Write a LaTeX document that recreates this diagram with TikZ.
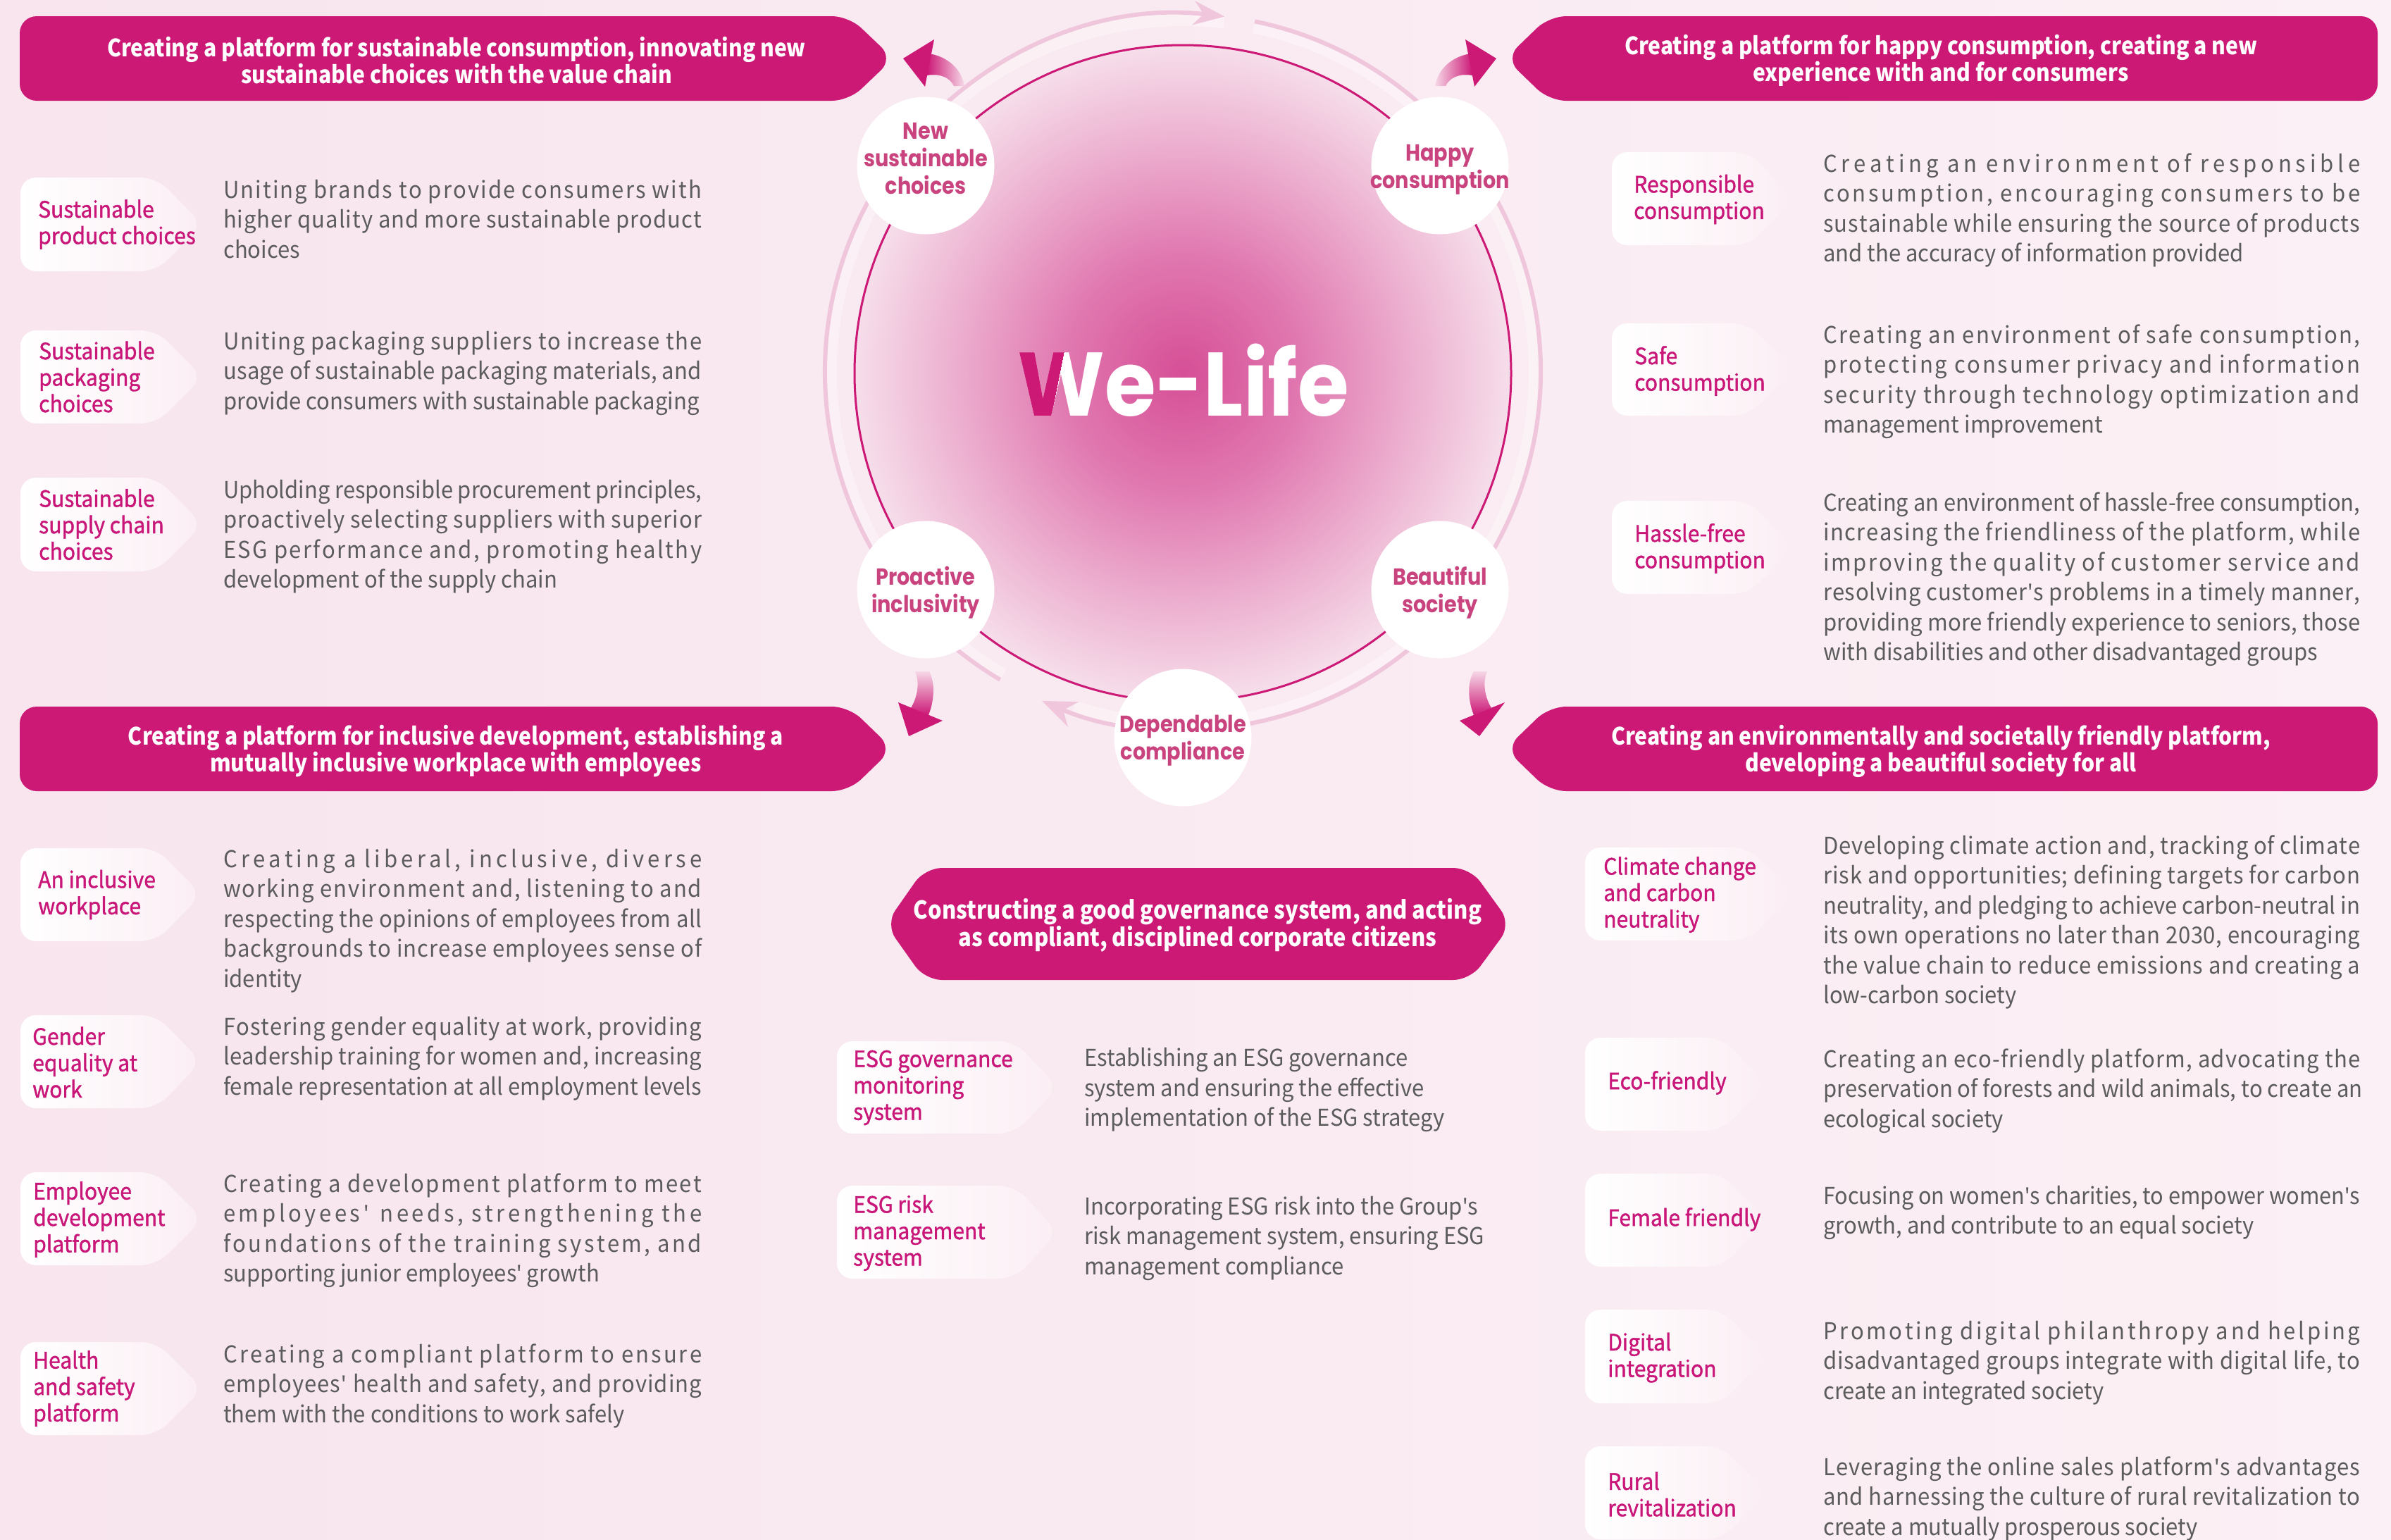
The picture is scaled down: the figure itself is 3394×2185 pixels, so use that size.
\documentclass[tikz,border=0pt]{standalone}
\usepackage{fontspec}
\usepackage{graphicx}
\usetikzlibrary{arrows.meta}
\setmainfont[FakeStretch=0.94]{Noto Sans CJK SC}
\newfontfamily\circfont[FakeStretch=0.87]{Poppins}
\newfontfamily\logofont[FakeStretch=0.92]{Poppins}
\newfontfamily\tagfont[FakeBold=1.2, FakeStretch=0.94]{Noto Sans CJK SC}
\newfontfamily\banfont[FakeStretch=0.885]{Noto Sans CJK SC}
\newfontfamily\aposfont{Noto Sans}
\newcommand\ap{{\aposfont'}}

\definecolor{mag}{RGB}{204,25,118}
\definecolor{tagtxt}{RGB}{201,22,121}
\definecolor{circtxt}{RGB}{201,68,126}
\definecolor{bodytxt}{RGB}{92,92,92}
\definecolor{bgL}{RGB}{248,229,238}
\definecolor{bgR}{RGB}{251,240,245}
\definecolor{ring}{RGB}{239,198,219}
\definecolor{pale}{RGB}{246,216,231}
\definecolor{tagR}{RGB}{251,238,244}

\pgfdeclareradialshading{core}{\pgfpoint{0bp}{0bp}}{%
  rgb(0bp)=(0.84,0.31,0.59);
  rgb(9bp)=(0.88,0.47,0.69);
  rgb(18bp)=(0.93,0.70,0.82);
  rgb(25bp)=(0.965,0.87,0.92);
  rgb(50bp)=(0.965,0.87,0.92)}

% letter-spaced line: equal stretchable gap between all characters
\ExplSyntaxOn
\seq_new:N \l__ws_words_seq
\bool_new:N \l__ws_first_bool
\bool_new:N \l__ws_firstc_bool
\cs_new_protected:Npn \ws_word:n #1
  {
    \bool_set_true:N \l__ws_firstc_bool
    \tl_map_inline:nn { #1 }
      {
        \bool_if:NF \l__ws_firstc_bool { \hskip 0pt plus 1fil \relax }
        \bool_set_false:N \l__ws_firstc_bool
        ##1
      }
  }
\cs_new_protected:Npn \spreadline #1
  {
    \seq_set_split:Nnn \l__ws_words_seq { ~ } { #1 }
    \bool_set_true:N \l__ws_first_bool
    \seq_map_inline:Nn \l__ws_words_seq
      {
        \bool_if:NF \l__ws_first_bool { \hskip \fontdimen2\font plus 1fil \relax }
        \bool_set_false:N \l__ws_first_bool
        \ws_word:n { ##1 }
      }
  }
\ExplSyntaxOff

% justified body line: letter-spaced, or squeezed if too long
\newsavebox\linebox
\newcommand\jl[1]{\sbox\linebox{#1}%
  \ifdim\wd\linebox>\linewidth
    \noindent\resizebox{\linewidth}{\height}{#1}%
  \else
    \noindent\makebox[\linewidth][s]{\spreadline{#1}}%
  \fi\par}
% ragged line, never broken
\newcommand\lastln[1]{\sbox\linebox{#1}%
  \ifdim\wd\linebox>\linewidth
    \noindent\resizebox{\linewidth}{\height}{#1}%
  \else
    \noindent\usebox\linebox
  \fi\par}
\newcommand\bodypar[2]{\parbox[t]{#1}{\fontsize{33pt}{42.5pt}\selectfont #2}}

% tag: rounded left end, pointed right end
\newcommand\tagshape[5]{%
  \shade[left color=white, right color=tagR, rounded corners=22pt]
    (#3,#2) -- (#1,#2) -- (#1,#5) -- (#3,#5) -- (#4,{(#2+#5)/2}) -- cycle;}

\begin{document}
\begin{tikzpicture}[x=1pt,y=-1pt,
  bantxt/.style={text=white, align=center, inner sep=0pt,
    font=\banfont\bfseries\fontsize{34pt}{38pt}\selectfont},
  taglbl/.style={text=tagtxt, align=left, inner sep=0pt, anchor=west,
    font=\tagfont\fontsize{32pt}{37.5pt}\selectfont},
  bodytext/.style={anchor=base west, inner sep=0pt, text=bodytxt},
  smallc/.style={circle, fill=white, minimum size=195pt, inner sep=0pt},
  circlbl/.style={align=center, inner sep=0pt, text=circtxt,
    font=\circfont\bfseries\fontsize{33pt}{39pt}\selectfont},
  ringline/.style={draw=ring, line width=6pt},
  ringglow/.style={draw=white, opacity=0.35, line width=18pt},
  logo/.style={anchor=base west, inner sep=0pt,
    font=\logofont\bfseries\fontsize{128pt}{128pt}\selectfont}]

\useasboundingbox (0,0) rectangle (3394,2185);
\shade[left color=bgL, right color=bgR] (0,0) rectangle (3394,2185);

% ---------- outer ring with two arrows ----------
\draw[ringglow] (1679,528) ++(120.7:500) arc[start angle=120.7, end angle=276.7, radius=500];
\draw[ringglow] (1679,528) ++(281.6:500) arc[start angle=281.6, end angle=468, radius=500];
\draw[ringline, -{Stealth[length=44pt, width=34pt, inset=14pt]}]
  (1679,528) ++(120.7:508) arc[start angle=120.7, end angle=276.7, radius=508];
\draw[ringline, -{Stealth[length=48pt, width=38pt, inset=15pt]}]
  (1679,528) ++(281.6:508) arc[start angle=281.6, end angle=473.2, radius=508];

% ---------- central disc ----------
\shade[shading=core] (1679,530) circle[radius=466];
\draw[mag, line width=3pt] (1679,530) circle[radius=466];

\node[logo, text=white] (welife) at (1444,590) {We-Life};
\begin{scope}
  \clip (1400,430) -- (1524,430) -- (1487,615) -- (1400,615) -- cycle;
  \node[logo, text=mag] (welifeV) at (1444,590) {We-Life};
\end{scope}

% ---------- curved arrows towards the banners ----------
\shade[left color=mag, right color=pale]
  (1318,76) .. controls (1345,80) and (1365,98) .. (1369,122)
  -- (1354,122) .. controls (1348,110) and (1335,104) .. (1316,107) -- cycle;
\fill[mag] (1282,83) -- (1326,56) -- (1313,123) -- cycle;

\shade[left color=pale, right color=mag]
  (2088,76) .. controls (2061,80) and (2041,98) .. (2037,122)
  -- (2052,122) .. controls (2058,110) and (2071,104) .. (2090,107) -- cycle;
\fill[mag] (2124,83) -- (2080,56) -- (2093,123) -- cycle;

\shade[top color=pale, bottom color=mag]
  (1299,953) .. controls (1306,970) and (1302,990) .. (1293,1005)
  -- (1318,1015) .. controls (1326,995) and (1328,970) .. (1319,953) -- cycle;
\fill[mag] (1275,997) -- (1338,1023) -- (1290,1045) -- cycle;

\shade[top color=pale, bottom color=mag]
  (2111,953) .. controls (2104,970) and (2108,990) .. (2117,1005)
  -- (2092,1015) .. controls (2084,995) and (2082,970) .. (2092,953) -- cycle;
\fill[mag] (2136,997) -- (2072,1023) -- (2100,1045) -- cycle;

% ---------- small circles ----------
\node[smallc] (newsus) at (1314,235) {};
\node[smallc] (happy) at (2044,235) {};
\node[smallc] (proact) at (1314,837) {};
\node[smallc] (beaut) at (2044,837) {};
\node[smallc] (depend) at (1679,1047) {};
\node[circlbl] (newsusL) at (1314,225) {New\\sustainable\\choices};
\node[circlbl] (happyL) at (2044,241) {Happy\\consumption};
\node[circlbl] (proactL) at (1314,841) {Proactive\\inclusivity};
\node[circlbl] (beautL) at (2044,841) {Beautiful\\society};
\node[circlbl] (dependL) at (1679,1051) {Dependable\\compliance};

% ---------- banners ----------
\fill[mag, rounded corners=24pt] (1205,23) -- (28,23) -- (28,143) -- (1205,143) -- (1268,83) -- cycle;
\node[bantxt] (banTL) at (648,86) {Creating a platform for sustainable consumption, innovating new\\sustainable choices with the value chain};

\fill[mag, rounded corners=24pt] (2199,23) -- (3375,23) -- (3375,143) -- (2199,143) -- (2137,83) -- cycle;
\node[bantxt] (banTR) at (2755,86) {Creating a platform for happy consumption, creating a new\\experience with and for consumers};

\fill[mag, rounded corners=24pt] (1205,1003) -- (28,1003) -- (28,1123) -- (1205,1123) -- (1267,1063) -- cycle;
\node[bantxt] (banBL) at (647,1066) {Creating a platform for inclusive development, establishing a\\mutually inclusive workplace with employees};

\fill[mag, rounded corners=24pt] (2199,1003) -- (3375,1003) -- (3375,1123) -- (2199,1123) -- (2137,1063) -- cycle;
\node[bantxt] (banBR) at (2755,1066) {Creating an environmentally and societally friendly platform,\\developing a beautiful society for all};

\fill[mag, rounded corners=24pt] (1313,1232) -- (2087,1232) -- (2145,1312) -- (2087,1391) -- (1313,1391) -- (1257,1312) -- cycle;
\node[bantxt, font=\banfont\bfseries\fontsize{35pt}{39pt}\selectfont] (banC) at (1700,1313) {Constructing a good governance system, and acting\\as compliant, disciplined corporate citizens};

% ---------- left column ----------
\tagshape{29}{252}{222}{288}{385}
\node[taglbl] (t1) at (54,318.5) {Sustainable\\product choices};
\node[bodytext] (b1) at (317,281) {\bodypar{679pt}{%
  \jl{Uniting brands to provide consumers with}
  \jl{higher quality and more sustainable product}
  \lastln{choices}}};

\tagshape{29}{469}{222}{288}{601}
\node[taglbl] (t2) at (55,535) {Sustainable\\packaging\\choices};
\node[bodytext] (b2) at (317,496) {\bodypar{679pt}{%
  \jl{Uniting packaging suppliers to increase the}
  \jl{usage of sustainable packaging materials, and}
  \lastln{provide consumers with sustainable packaging}}};

\tagshape{29}{678}{222}{288}{811}
\node[taglbl] (t3) at (55,744.5) {Sustainable\\supply chain\\choices};
\node[bodytext] (b3) at (317,707) {\bodypar{679pt}{%
  \jl{Upholding responsible procurement principles,}
  \jl{proactively selecting suppliers with superior}
  \jl{ESG performance and, promoting healthy}
  \lastln{development of the supply chain}}};

\tagshape{29}{1204}{222}{286}{1336}
\node[taglbl] (t4) at (54,1270) {An inclusive\\workplace};
\node[bodytext] (b4) at (317,1231) {\bodypar{679pt}{%
  \jl{Creating a liberal, inclusive, diverse}
  \jl{working environment and, listening to and}
  \jl{respecting the opinions of employees from all}
  \jl{backgrounds to increase employees sense of}
  \lastln{identity}}};

\tagshape{29}{1441}{222}{286}{1573}
\node[taglbl] (t5) at (46,1508) {Gender\\equality at\\work};
\node[bodytext] (b5) at (317,1469) {\bodypar{679pt}{%
  \jl{Fostering gender equality at work, providing}
  \jl{leadership training for women and, increasing}
  \lastln{female representation at all employment levels}}};

\tagshape{29}{1664}{222}{288}{1796}
\node[taglbl] (t6) at (47,1731) {Employee\\development\\platform};
\node[bodytext] (b6) at (317,1692) {\bodypar{679pt}{%
  \jl{Creating a development platform to meet}
  \jl{employees\ap\ needs, strengthening the}
  \jl{foundations of the training system, and}
  \lastln{supporting junior employees\ap\ growth}}};

\tagshape{29}{1905}{222}{288}{2037}
\node[taglbl] (t7) at (47,1971) {Health\\and safety\\platform};
\node[bodytext] (b7) at (317,1934) {\bodypar{679pt}{%
  \jl{Creating a compliant platform to ensure}
  \jl{employees\ap\ health and safety, and providing}
  \lastln{them with the conditions to work safely}}};

% ---------- centre column ----------
\tagshape{1188}{1478}{1440}{1502}{1609}
\node[taglbl] (t8) at (1211,1544) {ESG governance\\monitoring\\system};
\node[bodytext] (b8) at (1539,1513.5) {\bodypar{600pt}{%
  \lastln{Establishing an ESG governance}
  \lastln{system and ensuring the effective}
  \lastln{implementation of the ESG strategy}}};

\tagshape{1188}{1683}{1440}{1502}{1815}
\node[taglbl] (t9) at (1211,1750) {ESG risk\\management\\system};
\node[bodytext] (b9) at (1539,1724) {\bodypar{600pt}{%
  \lastln{Incorporating ESG risk into the Group\ap s}
  \lastln{risk management system, ensuring ESG}
  \lastln{management compliance}}};

% ---------- right column ----------
\tagshape{2288}{216}{2484}{2546}{348}
\node[taglbl] (t10) at (2319,283) {Responsible\\consumption};
\node[bodytext] (b10) at (2588,244) {\bodypar{762pt}{%
  \jl{Creating an environment of responsible}
  \jl{consumption, encouraging consumers to be}
  \jl{sustainable while ensuring the source of products}
  \lastln{and the accuracy of information provided}}};

\tagshape{2288}{459}{2482}{2546}{590}
\node[taglbl] (t11) at (2320,526.5) {Safe\\consumption};
\node[bodytext] (b11) at (2588,487) {\bodypar{762pt}{%
  \jl{Creating an environment of safe consumption,}
  \jl{protecting consumer privacy and information}
  \jl{security through technology optimization and}
  \lastln{management improvement}}};

\tagshape{2288}{711}{2482}{2546}{843}
\node[taglbl] (t12) at (2320,778.5) {Hassle-free\\consumption};
\node[bodytext] (b12) at (2588,725) {\bodypar{762pt}{%
  \jl{Creating an environment of hassle-free consumption,}
  \jl{increasing the friendliness of the platform, while}
  \jl{improving the quality of customer service and}
  \jl{resolving customer\ap s problems in a timely manner,}
  \jl{providing more friendly experience to seniors, those}
  \lastln{with disabilities and other disadvantaged groups}}};

\tagshape{2250}{1203}{2482}{2546}{1335}
\node[taglbl] (t13) at (2276,1270) {Climate change\\and carbon\\neutrality};
\node[bodytext] (b13) at (2588,1212) {\bodypar{762pt}{%
  \jl{Developing climate action and, tracking of climate}
  \jl{risk and opportunities; defining targets for carbon}
  \jl{neutrality, and pledging to achieve carbon-neutral in}
  \jl{its own operations no later than 2030, encouraging}
  \jl{the value chain to reduce emissions and creating a}
  \lastln{low-carbon society}}};

\tagshape{2250}{1473}{2444}{2508}{1605}
\node[taglbl] (t14) at (2282,1537) {Eco-friendly};
\node[bodytext] (b14) at (2588,1515) {\bodypar{762pt}{%
  \jl{Creating an eco-friendly platform, advocating the}
  \jl{preservation of forests and wild animals, to create an}
  \lastln{ecological society}}};

\tagshape{2250}{1666}{2444}{2508}{1798}
\node[taglbl] (t15) at (2282,1731) {Female friendly};
\node[bodytext] (b15) at (2588,1709) {\bodypar{762pt}{%
  \jl{Focusing on women\ap s charities, to empower women\ap s}
  \lastln{growth, and contribute to an equal society}}};

\tagshape{2250}{1859}{2444}{2508}{1992}
\node[taglbl] (t16) at (2282,1927) {Digital\\integration};
\node[bodytext] (b16) at (2588,1901) {\bodypar{762pt}{%
  \jl{Promoting digital philanthropy and helping}
  \jl{disadvantaged groups integrate with digital life, to}
  \lastln{create an integrated society}}};

\tagshape{2250}{2053}{2444}{2508}{2185}
\node[taglbl] (t17) at (2282,2121) {Rural\\revitalization};
\node[bodytext] (b17) at (2588,2094) {\bodypar{762pt}{%
  \jl{Leveraging the online sales platform\ap s advantages}
  \jl{and harnessing the culture of rural revitalization to}
  \lastln{create a mutually prosperous society}}};

\end{tikzpicture}
\end{document}
